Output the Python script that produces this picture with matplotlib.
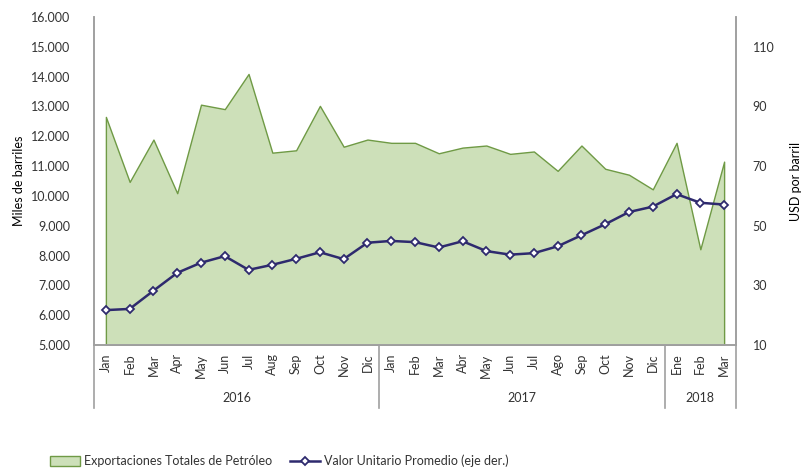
"""Exportaciones de petróleo y valor unitario promedio, 2016-2018."""

import matplotlib
matplotlib.use("Agg")
import matplotlib.pyplot as plt
from matplotlib.lines import Line2D
from matplotlib.patches import Patch
from matplotlib.ticker import FuncFormatter

plt.rcParams["font.family"] = ["Lato", "DejaVu Sans"]

months = ["Jan", "Feb", "Mar", "Apr", "May", "Jun", "Jul", "Aug", "Sep", "Oct", "Nov", "Dic",
          "Jan", "Feb", "Mar", "Abr", "May", "Jun", "Jul", "Ago", "Sep", "Oct", "Nov", "Dic",
          "Ene", "Feb", "Mar"]
years = ["2016", "2017", "2018"]
year_counts = [12, 12, 3]

exportaciones = [12650, 10470, 11890, 10090, 13060, 12910, 14090, 11450, 11530, 13020, 11650, 11890,
                 11780, 11780, 11430, 11620, 11690, 11410, 11490, 10840, 11690, 10910, 10710, 10220,
                 11780, 8210, 11150]
valor_unitario = [21.7, 22.1, 28.2, 34.2, 37.6, 39.8, 35.2, 36.9, 38.9, 41.1, 38.8, 44.3,
                  44.9, 44.5, 42.7, 44.8, 41.5, 40.3, 40.8, 43.1, 46.8, 50.5, 54.6, 56.4,
                  60.6, 57.7, 57.1]

fill_color = "#cde0b9"
edge_color = "#6f9a45"
line_color = "#2e2a6e"
axis_color = "#a0a0a0"
text_color = "#333333"

fig = plt.figure(figsize=(8.02, 4.71), dpi=100)
ax = fig.add_axes([94 / 802, 1 - 345 / 471, 642 / 802, 328 / 471])
x = list(range(len(months)))

ax.fill_between(x, 5000, exportaciones, facecolor=fill_color, edgecolor=edge_color, linewidth=1.0)
ax.set_xlim(-0.5, len(months) - 0.5)
ax.set_ylim(5000, 16000)
ax.set_yticks(range(5000, 16001, 1000))
ax.yaxis.set_major_formatter(FuncFormatter(lambda v, _: f"{int(v):,}".replace(",", ".")))
ax.set_xticks(x)
ax.set_xticklabels(months, rotation=90, fontsize=9, color=text_color)
ax.tick_params(axis="x", length=0, pad=6)
ax.tick_params(axis="y", length=0, pad=17, labelsize=9, labelcolor=text_color)
ax.set_ylabel("Miles de barriles", fontsize=9, color="black", labelpad=4)

ax2 = ax.twinx()
ax2.plot(x, valor_unitario, color=line_color, linewidth=1.8, marker="D", markersize=4.5,
         markerfacecolor="white", markeredgecolor=line_color, markeredgewidth=1.3)
ax2.set_ylim(10, 120)
ax2.set_yticks(range(10, 111, 20))
ax2.tick_params(axis="y", length=0, pad=12, labelsize=9, labelcolor=text_color)
ax2.set_ylabel("USD por barril", fontsize=9, color="black", labelpad=11)

for a in (ax, ax2):
    a.spines["top"].set_visible(False)
    for side in ("left", "right", "bottom"):
        a.spines[side].set_color(axis_color)
        a.spines[side].set_linewidth(1.2)

# category group separators and year labels
trans = ax.get_xaxis_transform()
bottom = -(408 - 345) / 328
start = -0.5
bounds = [start]
for year, n in zip(years, year_counts):
    ax.text(start + n / 2, -(398 - 345) / 328, year, transform=trans, ha="center", va="center",
            fontsize=9, color=text_color)
    start += n
    bounds.append(start)
for b in bounds:
    ax.plot([b, b], [0, bottom], transform=trans, color=axis_color, linewidth=1.2, clip_on=False)

area_handle = Patch(facecolor=fill_color, edgecolor=edge_color, linewidth=1.0)
line_handle = Line2D([], [], color=line_color, linewidth=1.8, marker="D", markersize=4.5,
                     markerfacecolor="white", markeredgecolor=line_color, markeredgewidth=1.3)
fig.legend([area_handle], ["Exportaciones Totales de Petróleo"], loc="center left",
           bbox_to_anchor=(50 / 802, 1 - 461 / 471), frameon=False, borderpad=0, borderaxespad=0,
           fontsize=9, handlelength=2.4, handleheight=0.85, handletextpad=0.3,
           labelcolor=text_color)
fig.legend([line_handle], ["Valor Unitario Promedio (eje der.)"], loc="center left",
           bbox_to_anchor=(290 / 802, 1 - 461 / 471), frameon=False, borderpad=0, borderaxespad=0,
           fontsize=9, handlelength=2.4, handletextpad=0.3, labelcolor=text_color)

fig.savefig("out.png", dpi=100)
